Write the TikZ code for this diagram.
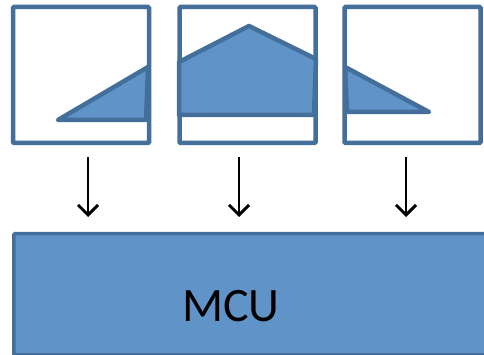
\documentclass[tikz,border=0pt]{standalone}
\usepackage{fontspec}
\setsansfont{Carlito}
\usetikzlibrary{arrows.meta,positioning}
\definecolor{mcufill}{RGB}{96,148,200}
\definecolor{mculine}{RGB}{68,111,155}

\begin{document}
\begin{tikzpicture}[x=1pt,y=-1pt,
    frame/.style={draw=mculine,line width=4.5pt,fill=white,rounded corners=1pt,minimum width=136pt,minimum height=136pt,inner sep=0pt},
    patch/.style={draw=mculine,line width=4.5pt,fill=mcufill,line join=round},
    arr/.style={-{Straight Barb[length=10pt,width=20pt,line width=3pt]},line width=2.6pt,black}]
    \useasboundingbox (0,0) rectangle (484,355);
    % three frames
    \node[frame] (f1) at (81,75) {};
    \node[frame] (f2) at (247.5,75) {};
    \node[frame] (f3) at (412.5,75) {};
    \draw[patch] (58,120) -- (148,67) -- (146,120) -- cycle;
    \draw[patch] (179,62) -- (249,26) -- (316,59) -- (314,115) -- (179,115) -- cycle;
    \draw[patch] (345,67) -- (429,112) -- (347,112) -- cycle;
    % mcu
    \node[draw=mculine,line width=3.5pt,fill=mcufill,rounded corners=1pt,minimum width=490pt,minimum height=121pt,inner sep=0pt,anchor=north west] (mcu) at (12,232) {};
    \node[font=\sffamily\fontsize{48}{58}\selectfont] (lbl) at (231,306) {MCU};
    \coordinate (a1) at (88,157);
    \coordinate (a2) at (239,157);
    \coordinate (a3) at (406,157);
    \draw[arr,shorten >=15pt] (a1) -- (a1 |- mcu.north);
    \draw[arr,shorten >=15pt] (a2) -- (a2 |- mcu.north);
    \draw[arr,shorten >=15pt] (a3) -- (a3 |- mcu.north);
\end{tikzpicture}
\end{document}
